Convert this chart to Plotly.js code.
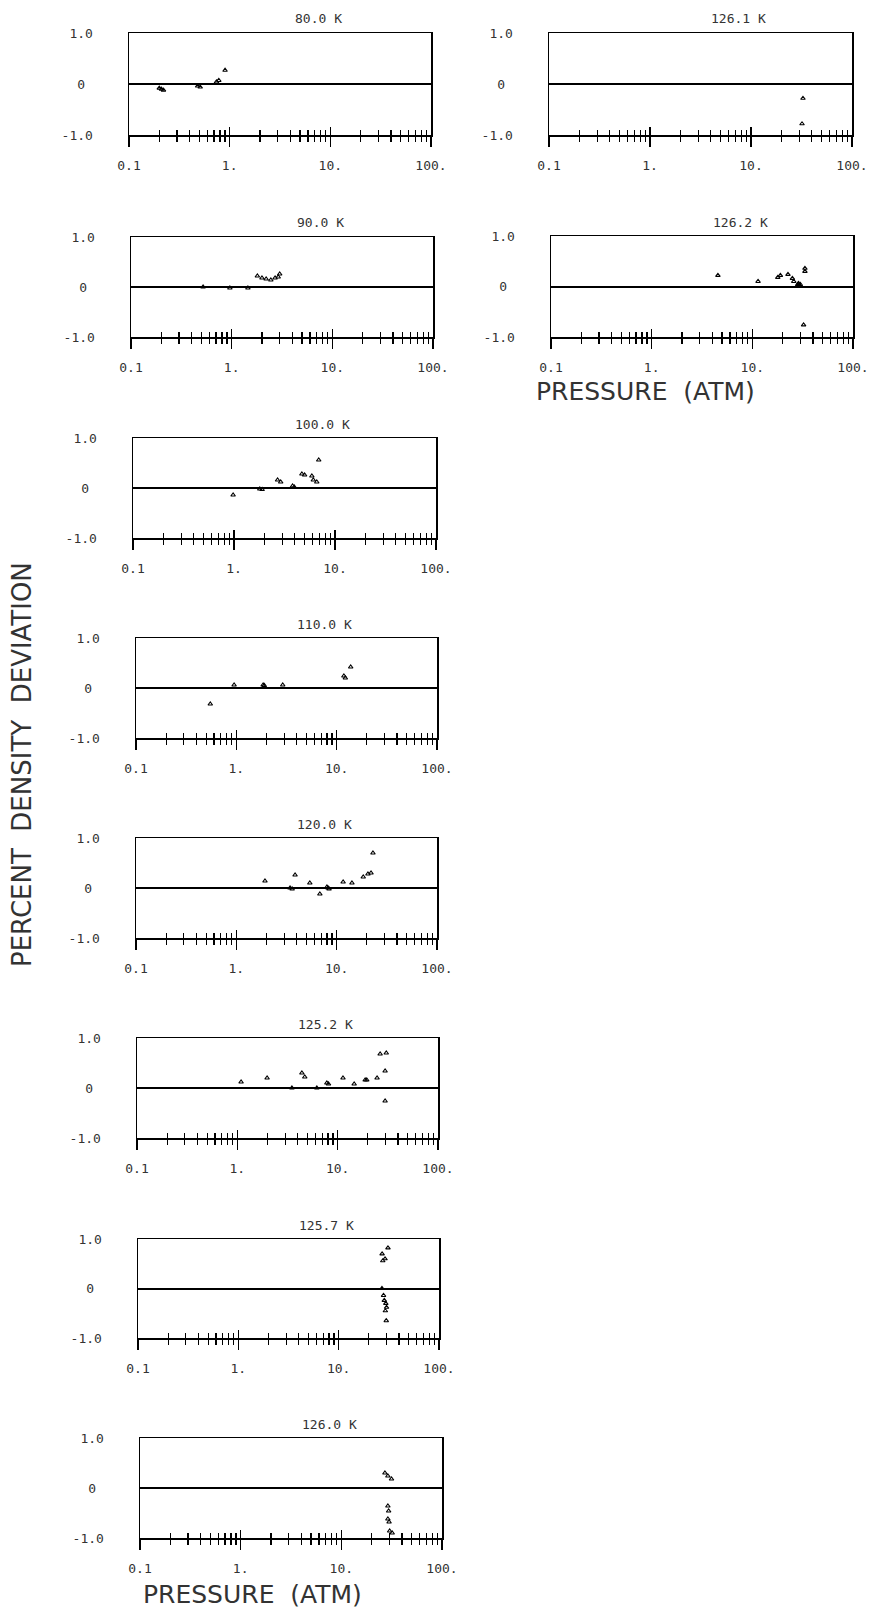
<!DOCTYPE html>
<html>
<head>
<meta charset="utf-8">
<script src="https://cdn.plot.ly/plotly-3.0.1.min.js"></script>
<style>
  html, body { margin: 0; padding: 0; background: #fff; }
  #chart { width: 877px; height: 1612px; }
</style>
</head>
<body>
<div id="chart"></div>
<script>
// ---- data ----
const temperatures = ['80.0 K', '90.0 K', '100.0 K', '110.0 K', '120.0 K', '125.2 K', '125.7 K', '126.0 K', '126.1 K', '126.2 K'];

const p80 = [0.2, 0.21, 0.22, 0.48, 0.51, 0.74, 0.78, 0.9];
const d80 = [-0.08, -0.1, -0.12, -0.04, -0.06, 0.04, 0.07, 0.27];

const p90 = [0.52, 0.96, 1.45, 1.8, 2.0, 2.2, 2.45, 2.7, 2.9, 3.0];
const d90 = [0.0, -0.02, -0.02, 0.22, 0.18, 0.16, 0.14, 0.18, 0.2, 0.26];

const p100 = [0.98, 1.8, 1.9, 2.7, 2.9, 3.8, 3.95, 4.7, 5.0, 5.9, 6.1, 6.6, 6.9];
const d100 = [-0.14, -0.02, -0.03, 0.16, 0.12, 0.04, 0.02, 0.28, 0.26, 0.24, 0.16, 0.12, 0.56];

const p110 = [0.55, 0.95, 1.85, 1.9, 2.9, 11.8, 12.2, 13.8];
const d110 = [-0.32, 0.06, 0.06, 0.05, 0.06, 0.24, 0.2, 0.42];

const p120 = [1.93, 3.43, 3.6, 3.85, 5.4, 6.8, 8.0, 8.2, 8.4, 11.6, 14.2, 18.4, 20.5, 22, 23];
const d120 = [0.14, 0.0, -0.02, 0.26, 0.1, -0.12, 0.02, 0.0, -0.02, 0.12, 0.1, 0.22, 0.28, 0.3, 0.7];

const p1252 = [1.09, 1.98, 3.5, 4.4, 4.7, 6.2, 7.8, 8.1, 11.3, 14.6, 18.8, 19.5, 24.7, 26.5, 30.5, 29.7, 29.7];
const d1252 = [0.12, 0.2, 0.0, 0.3, 0.22, 0.0, 0.1, 0.08, 0.2, 0.08, 0.16, 0.16, 0.2, 0.68, 0.7, 0.34, -0.26];

const p1257 = [27.1, 27.5, 29, 31, 27, 28, 28.5, 29.5, 30, 29.2, 29.8];
const d1257 = [0.7, 0.56, 0.6, 0.82, 0.0, -0.14, -0.24, -0.3, -0.38, -0.45, -0.65];

const p1260 = [27.1, 29, 31.5, 29, 29.5, 29, 29.8, 30.2, 32];
const d1260 = [0.3, 0.24, 0.18, -0.36, -0.46, -0.62, -0.68, -0.86, -0.9];

const p1261 = [32.7, 32];
const d1261 = [-0.28, -0.78];

const p1262 = [4.55, 11.4, 17.9, 19, 22.6, 25, 25.8, 28.2, 28.8, 29.5, 30, 33.3, 33.3, 32.3];
const d1262 = [0.22, 0.1, 0.18, 0.22, 0.24, 0.16, 0.1, 0.04, 0.06, 0.02, 0.04, 0.36, 0.3, -0.76];

const pressures = [p80, p90, p100, p110, p120, p1252, p1257, p1260, p1261, p1262];
const deviations = [d80, d90, d100, d110, d120, d1252, d1257, d1260, d1261, d1262];

const xMajorVals = [0.1, 1, 10, 100];
const xMajorText = ['0.1', '1.', '10.', '100.'];
const xMinorVals = [0.2,0.3,0.4,0.5,0.6,0.7,0.8,0.9, 2,3,4,5,6,7,8,9, 20,30,40,50,60,70,80,90];
const yTickVals = [1, 0, -1];
const yTickText = ['1.0', '0\u00a0', '-1.0'];

// ---- layout geometry (pixels): left, right, top (y=1), bottom (y=-1) ----
const W = 877, H = 1612;
const boxes = [
  [129, 431, 33, 135],
  [131, 433, 237, 337],
  [133, 436, 438, 538],
  [136, 437, 638, 738],
  [136, 437, 838, 938],
  [137, 438, 1038, 1138],
  [138, 439, 1239, 1338],
  [140, 442, 1438, 1538],
  [549, 852, 33, 135],
  [551, 853, 236, 337]
];

const tickFont = {family: 'DejaVu Sans Mono', size: 13, color: '#333'};
const bigFont = {family: 'DejaVu Sans', size: 25, color: '#333'};
const bigFontV = {family: 'DejaVu Sans', size: 26, color: '#333'};

const data = [];
const layout = {
  width: W, height: H,
  margin: {l: 0, r: 0, t: 0, b: 0},
  paper_bgcolor: '#fff', plot_bgcolor: '#fff',
  showlegend: false,
  annotations: []
};

boxes.forEach((b, i) => {
  const k = i + 1;
  const ko = k + 10;
  const [L, R, T, B] = b;
  const xd = [L / W, R / W];
  const yd = [1 - B / H, 1 - T / H];

  layout['xaxis' + k] = {
    type: 'log', range: [-1, 2], domain: xd, anchor: 'y' + k,
    showline: true, linecolor: '#000', linewidth: 1.5, mirror: true,
    showgrid: false, zeroline: false,
    tickmode: 'array', tickvals: xMajorVals, ticktext: xMajorText,
    ticks: 'outside', ticklen: 10, tickwidth: 1.5, tickcolor: '#000',
    minor: {tickmode: 'array', tickvals: xMinorVals, ticks: 'outside', ticklen: 5, tickwidth: 1.2, tickcolor: '#000', showgrid: false},
    tickfont: tickFont, ticklabelstandoff: 8,
    fixedrange: true
  };
  layout['xaxis' + ko] = {
    type: 'log', range: [-1, 2], domain: xd, anchor: 'y' + k, overlaying: 'x' + k, side: 'bottom',
    showline: false, showgrid: false, zeroline: false,
    tickmode: 'array', tickvals: [1, 10], showticklabels: false,
    ticks: 'inside', ticklen: 8, tickwidth: 1.5, tickcolor: '#000',
    minor: {tickmode: 'array', tickvals: xMinorVals, ticks: 'inside', ticklen: 5, tickwidth: 1.2, tickcolor: '#000', showgrid: false},
    fixedrange: true
  };
  layout['yaxis' + k] = {
    range: [-1, 1], domain: yd, anchor: 'x' + k,
    showline: true, linecolor: '#000', linewidth: 1.5, mirror: true,
    showgrid: false,
    zeroline: true, zerolinecolor: '#000', zerolinewidth: 2,
    tickmode: 'array', tickvals: yTickVals, ticktext: yTickText,
    ticks: 'outside', ticklen: 32, tickcolor: 'rgba(0,0,0,0)',
    tickfont: tickFont,
    fixedrange: true
  };

  data.push({
    type: 'scatter', mode: 'markers',
    x: pressures[i], y: deviations[i],
    xaxis: 'x' + k, yaxis: 'y' + k,
    marker: {symbol: 'triangle-up-open', size: 4, color: '#000', line: {width: 1.1, color: '#000'}},
    hoverinfo: 'x+y'
  });
  // invisible companion trace so the overlay (inside-tick) axis is drawn
  data.push({
    type: 'scatter', mode: 'markers',
    x: pressures[i], y: deviations[i],
    xaxis: 'x' + ko, yaxis: 'y' + k,
    marker: {opacity: 0, size: 1},
    hoverinfo: 'skip'
  });

  layout.annotations.push({
    text: temperatures[i], xref: 'paper', yref: 'paper',
    x: ((L + R) / 2 + 38) / W, y: 1 - (T - 14) / H,
    xanchor: 'center', yanchor: 'middle', showarrow: false,
    font: tickFont
  });
});

// axis titles
layout.annotations.push({
  text: 'PRESSURE\u00a0\u00a0(ATM)', xref: 'paper', yref: 'paper',
  x: 253 / W, y: 1 - 1594 / H, xanchor: 'center', yanchor: 'middle',
  showarrow: false, font: bigFont
});
layout.annotations.push({
  text: 'PRESSURE\u00a0\u00a0(ATM)', xref: 'paper', yref: 'paper',
  x: 645 / W, y: 1 - 392 / H, xanchor: 'center', yanchor: 'middle',
  showarrow: false, font: bigFont
});
layout.annotations.push({
  text: 'PERCENT\u00a0\u00a0DENSITY\u00a0\u00a0DEVIATION', xref: 'paper', yref: 'paper',
  x: 22 / W, y: 1 - 765 / H, xanchor: 'center', yanchor: 'middle',
  textangle: -90, showarrow: false, font: bigFontV
});

Plotly.newPlot('chart', data, layout, {staticPlot: true, displayModeBar: false});
</script>
</body>
</html>
